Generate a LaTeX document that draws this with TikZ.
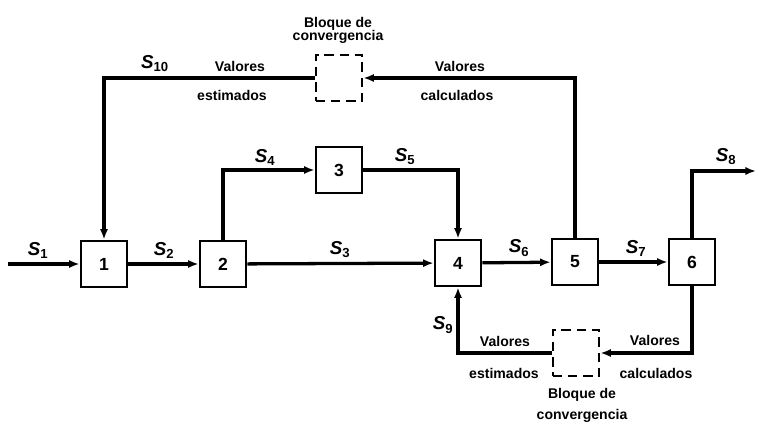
\documentclass[tikz,border=0pt]{standalone}
\usepackage{fontspec}
\setmainfont{Liberation Sans}
\usetikzlibrary{arrows.meta,positioning}
\newcommand{\strm}[1]{\textit{S}\textsubscript{\bfseries #1}}

\begin{document}
\begin{tikzpicture}[x=0.03cm,y=-0.03cm,every node/.style={font=\fontsize{12}{14}\selectfont\bfseries},
  stage/.style={draw,line width=1.8pt,minimum size=1.4cm,inner sep=0pt,font=\fontsize{15}{17}\selectfont\bfseries},
  cblock/.style={draw,line width=1.8pt,dash pattern=on 8pt off 5pt,minimum size=1.4cm},
  flow/.style={line width=2.8pt,-{Latex[length=9pt,width=7pt]}},
  lbl/.style={font=\fontsize{16}{18}\selectfont\bfseries}]
  \useasboundingbox (0,0) rectangle (762,423);
  % units
  \node[stage] (b1) at (104,264) {1};
  \node[stage] (b2) at (223,264) {2};
  \node[stage] (b3) at (339,170) {3};
  \node[stage] (b4) at (458,263) {4};
  \node[stage] (b5) at (575,262) {5};
  \node[stage] (b6) at (692,262) {6};
  \node[cblock] (cvA) at (339,78) {};
  \node[cblock] (cvB) at (576,353) {};
  \coordinate (feed) at (8,264);
  \coordinate (prod) at (756,171);
  % streams
  \draw[flow] (feed) -- (b1);
  \draw[flow] (b1) -- (b2);
  \draw[flow] (b2) -- (b4);
  \draw[flow] (b2.north) |- (b3);
  \draw[flow] (b3) -| (b4.north);
  \draw[flow] (b4) -- (b5);
  \draw[flow] (b5) -- (b6);
  \draw[flow] (b6.north) |- (prod);
  \draw[flow] (b5.north) |- (cvA.east);
  \draw[flow] (cvA.west) -| (b1.north);
  \draw[flow] (b6.south) |- (cvB.east);
  \draw[flow] (cvB.west) -| (b4.south);
  % labels
  \node[lbl] (tS1) at (38,250) {\strm{1}};
  \node[lbl] (tS2) at (164,250) {\strm{2}};
  \node[lbl] (tS3) at (340,250) {\strm{3}};
  \node[lbl] (tS4) at (265,157) {\strm{4}};
  \node[lbl] (tS5) at (405,157) {\strm{5}};
  \node[lbl] (tS6) at (519,248) {\strm{6}};
  \node[lbl] (tS7) at (636,248) {\strm{7}};
  \node[lbl] (tS8) at (726,157) {\strm{8}};
  \node[lbl] (tS9) at (443,325) {\strm{9}};
  \node[lbl] (tS10) at (155,64) {\strm{10}};
  \node (vA1) at (240,66) {Valores};
  \node (vA2) at (232,95) {estimados};
  \node (vA3) at (460,66) {Valores};
  \node (vA4) at (457,95) {calculados};
  \node[align=center] (tcvA) at (338,30) {Bloque de\\[-3pt]convergencia};
  \node (vB1) at (505,341) {Valores};
  \node (vB2) at (504,373) {estimados};
  \node (vB3) at (655,340) {Valores};
  \node (vB4) at (656,373) {calculados};
  \node[align=center] (tcvB) at (582,405) {Bloque de\\[4pt]convergencia};
\end{tikzpicture}
\end{document}
